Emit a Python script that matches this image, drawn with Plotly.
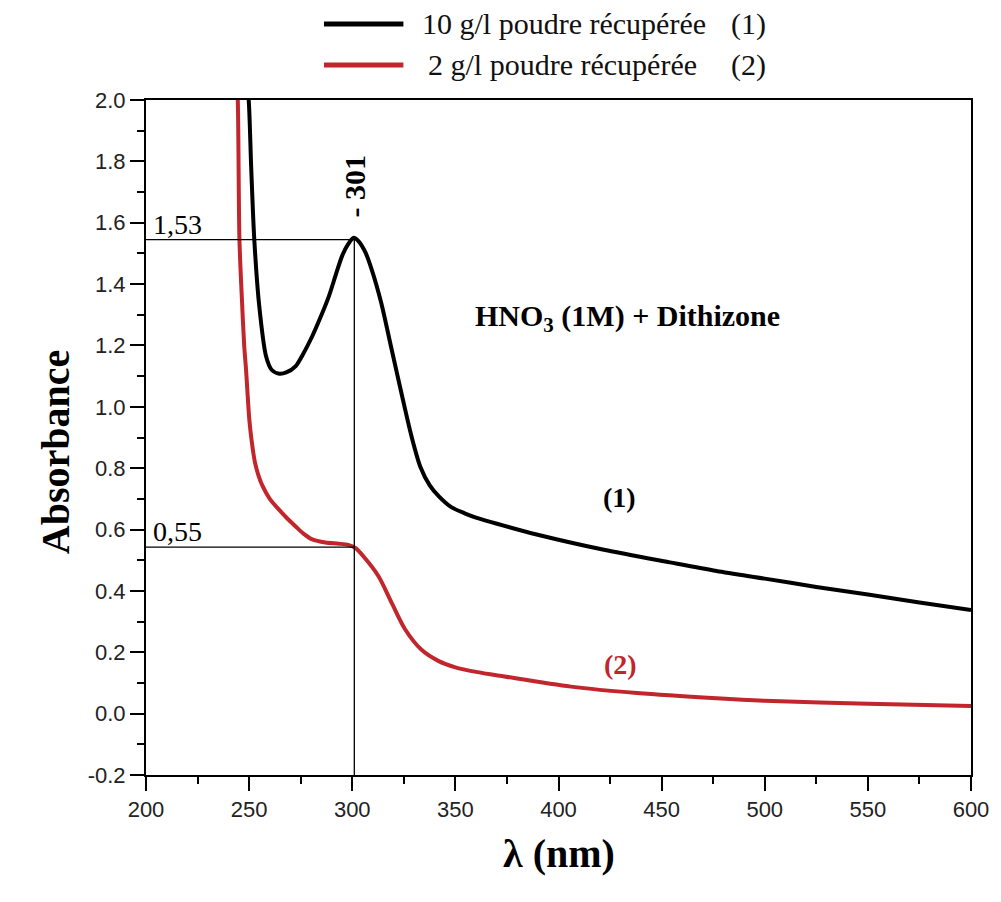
import plotly.graph_objects as go

# Series 1: 10 g/l poudre récupérée
wl_1 = [248.5, 249.8, 251.0, 252.5, 254.9, 258.2, 261.0, 264.6, 268.0, 272.6, 276.0, 280.6,
        284.5, 288.7, 292.0, 295.1, 298.0, 300.7, 303.0, 306.4, 309.4, 314.0, 319.0, 324.0,
        328.5, 333.0, 337.5, 342.0, 348.0, 354.5, 360.0, 370.6, 389.9, 422.0, 454.0, 476.6,
        500.0, 525.0, 550.0, 575.0, 600.0]
abs_1 = [2.08, 2.00, 1.78, 1.546, 1.329, 1.165, 1.120, 1.108, 1.112, 1.133, 1.170, 1.230,
         1.290, 1.361, 1.430, 1.492, 1.530, 1.551, 1.540, 1.503, 1.448, 1.340, 1.190, 1.040,
         0.910, 0.805, 0.745, 0.708, 0.673, 0.653, 0.639, 0.618, 0.583, 0.534, 0.493, 0.465,
         0.440, 0.413, 0.388, 0.362, 0.338]

# Series 2: 2 g/l poudre récupérée
wl_2 = [243.8, 244.5, 245.3, 246.5, 247.6, 248.5, 250.1, 251.3, 252.8, 254.6, 256.5, 260.0,
        264.6, 268.5, 272.6, 276.5, 280.6, 287.0, 293.5, 298.0, 301.5, 306.0, 312.8, 319.2,
        325.6, 333.6, 341.7, 350.0, 360.0, 373.8, 406.0, 438.0, 476.6, 500.0, 550.0, 600.0]
abs_2 = [2.08, 2.00, 1.546, 1.35, 1.20, 1.122, 0.958, 0.885, 0.820, 0.775, 0.742, 0.700,
         0.664, 0.636, 0.610, 0.586, 0.568, 0.558, 0.554, 0.550, 0.540, 0.508, 0.447, 0.360,
         0.275, 0.208, 0.172, 0.151, 0.136, 0.121, 0.088, 0.067, 0.050, 0.042, 0.032, 0.025]

series_names = ["10 g/l poudre récupérée", "2 g/l poudre récupérée"]
series_tags = ["(1)", "(2)"]
peak_wl = 301
peak_abs_1 = 1.545
peak_abs_2 = 0.543
peak_labels = ["1,53", "0,55"]

x_tickvals = [200, 250, 300, 350, 400, 450, 500, 550, 600]
x_ticktext = ["200", "250", "300", "350", "400", "450", "500", "550", "600"]
y_tickvals = [-0.2, 0.0, 0.2, 0.4, 0.6, 0.8, 1.0, 1.2, 1.4, 1.6, 1.8, 2.0]
y_ticktext = ["-0.2", "0.0", "0.2", "0.4", "0.6", "0.8", "1.0", "1.2", "1.4", "1.6", "1.8", "2.0"]

BLACK = "black"
RED = "#c0262c"
SERIF = "Liberation Serif, Times New Roman, serif"
SANS = "Liberation Sans, Arial, sans-serif"

fig = go.Figure()
fig.add_trace(go.Scatter(x=wl_1, y=abs_1, mode="lines", name=series_names[0],
                         line=dict(color=BLACK, width=4, shape="spline", smoothing=0.8),
                         showlegend=False))
fig.add_trace(go.Scatter(x=wl_2, y=abs_2, mode="lines", name=series_names[1],
                         line=dict(color=RED, width=4, shape="spline", smoothing=0.8),
                         showlegend=False))

# guide lines
fig.add_shape(type="line", xref="x", yref="y", x0=200, x1=peak_wl, y0=peak_abs_1, y1=peak_abs_1,
              line=dict(color="black", width=1.3))
fig.add_shape(type="line", xref="x", yref="y", x0=200, x1=peak_wl, y0=peak_abs_2, y1=peak_abs_2,
              line=dict(color="black", width=1.3))
fig.add_shape(type="line", xref="x", yref="y", x0=peak_wl, x1=peak_wl, y0=-0.2, y1=peak_abs_1,
              line=dict(color="black", width=1.3))

# legend (manual)
fig.add_shape(type="line", xref="paper", yref="paper", x0=0.2157, x1=0.312, y0=1.1126, y1=1.1126,
              line=dict(color=BLACK, width=5))
fig.add_shape(type="line", xref="paper", yref="paper", x0=0.2157, x1=0.312, y0=1.0519, y1=1.0519,
              line=dict(color=RED, width=5))
fig.add_annotation(xref="paper", yref="paper", x=0.3325, y=1.1126, xanchor="left", yanchor="middle",
                   text=series_names[0], showarrow=False, font=dict(family=SERIF, size=30, color="#111"))
fig.add_annotation(xref="paper", yref="paper", x=0.3397, y=1.0519, xanchor="left", yanchor="middle",
                   text=series_names[1], showarrow=False, font=dict(family=SERIF, size=30, color="#111"))
fig.add_annotation(xref="paper", yref="paper", x=0.7545, y=1.1126, xanchor="right", yanchor="middle",
                   text=series_tags[0], showarrow=False, font=dict(family=SERIF, size=30, color="#111"))
fig.add_annotation(xref="paper", yref="paper", x=0.7545, y=1.0519, xanchor="right", yanchor="middle",
                   text=series_tags[1], showarrow=False, font=dict(family=SERIF, size=30, color="#111"))

# in-plot labels
fig.add_annotation(x=202.5, y=peak_abs_1, xanchor="left", yanchor="bottom", yshift=-2,
                   text=peak_labels[0], showarrow=False, font=dict(family=SERIF, size=28, color="black"))
fig.add_annotation(x=202.5, y=peak_abs_2, xanchor="left", yanchor="bottom", yshift=-2,
                   text=peak_labels[1], showarrow=False, font=dict(family=SERIF, size=28, color="black"))
fig.add_annotation(x=peak_wl, y=1.719, text="<b>- 301</b>", textangle=-90, showarrow=False,
                   font=dict(family=SERIF, size=30, color="black"))
fig.add_annotation(x=433.3, y=1.291, text="<b>HNO<sub>3</sub> (1M) + Dithizone</b>", showarrow=False,
                   font=dict(family=SERIF, size=30, color="black"))
fig.add_annotation(x=429.4, y=0.706, text="<b>(1)</b>", showarrow=False,
                   font=dict(family=SERIF, size=28, color="black"))
fig.add_annotation(x=429.9, y=0.159, text="<b>(2)</b>", showarrow=False,
                   font=dict(family=SERIF, size=28, color=RED))

# axis titles
fig.add_annotation(xref="paper", yref="paper", x=-0.1398, y=0.4785, text="<b>Absorbance</b>",
                   textangle=-90, showarrow=False, font=dict(family=SERIF, size=40, color="black"))
fig.add_annotation(xref="paper", yref="paper", x=0.5, y=-0.1526, text="<b>λ (nm)</b>",
                   showarrow=False, font=dict(family=SERIF, size=40, color="black"))

axis_common = dict(showgrid=False, zeroline=False, showline=True, linecolor="black", linewidth=2,
                   mirror=True, ticks="outside", ticklen=14, tickwidth=2, tickcolor="black",
                   tickfont=dict(family=SANS, size=22, color="#222"))

fig.update_xaxes(range=[200, 600], tickmode="array", tickvals=x_tickvals, ticktext=x_ticktext,
                 minor=dict(ticks="outside", ticklen=7, tickwidth=2, tickcolor="black",
                            tickmode="linear", tick0=200, dtick=25),
                 **axis_common)
fig.update_yaxes(range=[-0.2, 2.0], tickmode="array", tickvals=y_tickvals, ticktext=y_ticktext,
                 minor=dict(ticks="outside", ticklen=7, tickwidth=2, tickcolor="black",
                            tickmode="linear", tick0=-0.2, dtick=0.1),
                 **axis_common)

fig.update_layout(width=1001, height=902, plot_bgcolor="white", paper_bgcolor="white",
                  margin=dict(l=146, r=25, t=100, b=127), showlegend=False)

fig.write_html("out.html", config={"displayModeBar": False},
               post_script="document.body.style.margin='0';document.body.style.overflow='hidden';")
